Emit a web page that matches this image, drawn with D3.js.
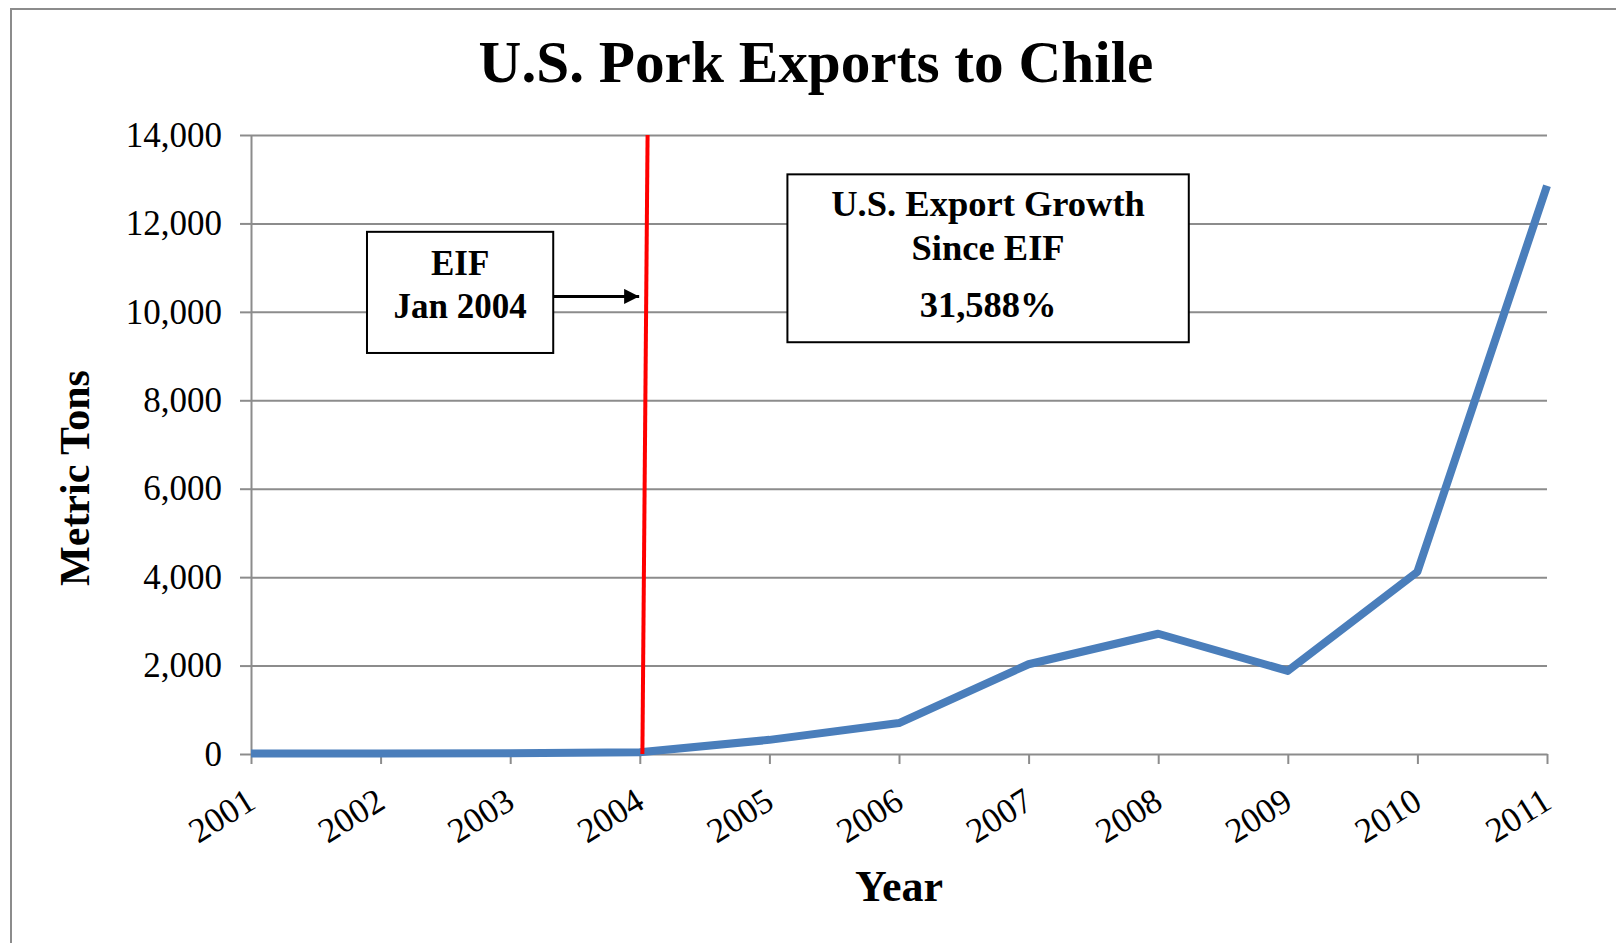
<!DOCTYPE html>
<html>
<head>
<meta charset="utf-8">
<script src="https://cdn.jsdelivr.net/npm/d3@7"></script>
<style>
  html, body { margin: 0; padding: 0; background: #fff; }
  svg { display: block; font-family: "Liberation Serif", "Times New Roman", serif; }
</style>
</head>
<body>
<svg id="chart" width="1616" height="943"></svg>
<script>
// --- data ---
const years = [2001, 2002, 2003, 2004, 2005, 2006, 2007, 2008, 2009, 2010, 2011];
const exportsTons = [10, 10, 15, 41, 320, 700, 2030, 2720, 1880, 4120, 12850];
const yTicks = [0, 2000, 4000, 6000, 8000, 10000, 12000, 14000];

const titleText = "U.S. Pork Exports to Chile";
const yTitle = "Metric Tons";
const xTitle = "Year";
const eifLines = ["EIF", "Jan 2004"];
const growthLines = ["U.S. Export Growth", "Since EIF", "31,588%"];

// --- layout ---
const W = 1616, H = 943;
const plot = { left: 251, right: 1547, top: 135, bottom: 754 };

const svg = d3.select("#chart");

svg.append("rect").attr("width", W).attr("height", H).attr("fill", "#fff");
// outer frame (runs off right/bottom edge like the source)
svg.append("rect")
  .attr("x", 11).attr("y", 9)
  .attr("width", W + 20).attr("height", H + 20)
  .attr("fill", "none").attr("stroke", "#8c8c8c").attr("stroke-width", 2);

const x = d3.scaleLinear().domain([2001, 2011]).range([plot.left, plot.right]);
const y = d3.scaleLinear().domain([0, 14000]).range([plot.bottom, plot.top]);

// gridlines
svg.append("g")
  .attr("transform", `translate(${plot.left},0)`)
  .call(d3.axisLeft(y).tickValues(yTicks.slice(1)).tickSize(-(plot.right - plot.left)).tickFormat(""))
  .call(g => g.select(".domain").remove())
  .call(g => g.selectAll("line").attr("stroke", "#8c8c8c").attr("stroke-width", 2));

// y axis
svg.append("g")
  .attr("transform", `translate(${plot.left},0)`)
  .call(d3.axisLeft(y).tickValues(yTicks).tickSize(11).tickPadding(18).tickSizeOuter(0)
    .tickFormat(d3.format(",")))
  .call(g => g.select(".domain").attr("stroke", "#8c8c8c").attr("stroke-width", 2))
  .call(g => g.selectAll("line").attr("stroke", "#8c8c8c").attr("stroke-width", 2))
  .call(g => g.selectAll("text")
    .attr("font-family", "Liberation Serif").attr("font-size", 35).attr("fill", "#000"));

// x axis
svg.append("g")
  .attr("transform", `translate(0,${plot.bottom})`)
  .call(d3.axisBottom(x).tickValues(years).tickSize(10).tickSizeOuter(0).tickFormat(d3.format("d")))
  .call(g => g.select(".domain").attr("stroke", "#8c8c8c").attr("stroke-width", 2))
  .call(g => g.selectAll("line").attr("stroke", "#8c8c8c").attr("stroke-width", 2))
  .call(g => g.selectAll("text")
    .attr("font-family", "Liberation Serif").attr("font-size", 35).attr("fill", "#000")
    .attr("text-anchor", "end")
    .attr("y", 0).attr("dy", 0)
    .attr("transform", "translate(6,53) rotate(-32)"));

// data line
const line = d3.line().x((d, i) => x(years[i])).y(d => y(d));
svg.append("path")
  .datum(exportsTons)
  .attr("d", line)
  .attr("fill", "none")
  .attr("stroke", "#4a7ebb")
  .attr("stroke-width", 8)
  .attr("stroke-linejoin", "round");

// EIF marker line (slightly slanted, as drawn in the source)
svg.append("line")
  .attr("x1", x(2004.02)).attr("y1", y(0))
  .attr("x2", x(2004.06)).attr("y2", y(14000))
  .attr("stroke", "#ff0000").attr("stroke-width", 4);

// arrow head marker
svg.append("defs").append("marker")
  .attr("id", "arrow")
  .attr("viewBox", "0 0 10 10").attr("refX", 10).attr("refY", 5)
  .attr("markerWidth", 6).attr("markerHeight", 5).attr("orient", "auto")
  .attr("markerUnits", "strokeWidth")
  .append("path").attr("d", "M0,0 L10,5 L0,10 Z").attr("fill", "#000");

// EIF box
const eifBox = { x0: 2001.895, x1: 2003.332, top: 11810, bottom: 9070 };
svg.append("rect")
  .attr("x", x(eifBox.x0)).attr("y", y(eifBox.top))
  .attr("width", x(eifBox.x1) - x(eifBox.x0)).attr("height", y(eifBox.bottom) - y(eifBox.top))
  .attr("fill", "#fff").attr("stroke", "#000").attr("stroke-width", 2);
const eifCx = (x(eifBox.x0) + x(eifBox.x1)) / 2;
svg.append("g").selectAll("text")
  .data(eifLines)
  .join("text")
  .attr("x", eifCx)
  .attr("y", (d, i) => y(eifBox.top) + 43 + i * 43)
  .attr("text-anchor", "middle")
  .attr("font-weight", "bold").attr("font-size", 35)
  .text(d => d);

svg.append("line")
  .attr("x1", x(eifBox.x1)).attr("y1", y(10350))
  .attr("x2", x(2003.995)).attr("y2", y(10350))
  .attr("stroke", "#000").attr("stroke-width", 3)
  .attr("marker-end", "url(#arrow)");

// growth box
const growthBox = { x0: 2005.139, x1: 2008.236, top: 13110, bottom: 9313 };
svg.append("rect")
  .attr("x", x(growthBox.x0)).attr("y", y(growthBox.top))
  .attr("width", x(growthBox.x1) - x(growthBox.x0)).attr("height", y(growthBox.bottom) - y(growthBox.top))
  .attr("fill", "#fff").attr("stroke", "#000").attr("stroke-width", 2);
const growthCx = (x(growthBox.x0) + x(growthBox.x1)) / 2;
const growthOffsets = [42, 86, 143];
svg.append("g").selectAll("text")
  .data(growthLines)
  .join("text")
  .attr("x", growthCx)
  .attr("y", (d, i) => y(growthBox.top) + growthOffsets[i])
  .attr("text-anchor", "middle")
  .attr("font-weight", "bold").attr("font-size", 36.5)
  .text(d => d);

// title, sized to the source width
const title = svg.append("text")
  .attr("x", 816).attr("y", 82)
  .attr("text-anchor", "middle")
  .attr("font-weight", "bold").attr("font-size", 56)
  .text(titleText);
const tw = title.node().getComputedTextLength();
title.attr("font-size", 56 * 675 / tw);

// axis titles
svg.append("text")
  .attr("transform", "translate(89,478) rotate(-90)")
  .attr("text-anchor", "middle")
  .attr("font-weight", "bold").attr("font-size", 42)
  .text(yTitle);

svg.append("text")
  .attr("x", (plot.left + plot.right) / 2).attr("y", 901)
  .attr("text-anchor", "middle")
  .attr("font-weight", "bold").attr("font-size", 44)
  .text(xTitle);
</script>
</body>
</html>
